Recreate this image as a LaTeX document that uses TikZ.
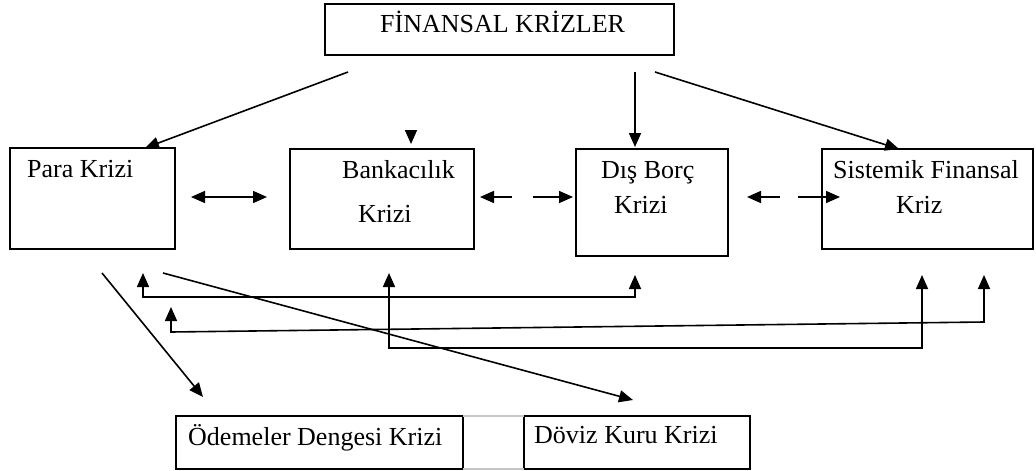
\documentclass[tikz,border=0pt]{standalone}
\usepackage{fontspec}
\setmainfont{Liberation Serif}
\usetikzlibrary{arrows.meta}
\begin{document}
\begin{tikzpicture}[x=1pt,y=-1pt,
  box/.style={draw=black, line width=1.8pt, rectangle, inner sep=0pt, outer sep=0pt, anchor=north west},
  txt/.style={inner sep=0pt, anchor=base west, font=\fontsize{26}{30}\selectfont},
  arr/.style={line width=1.6pt, -{Triangle[length=14pt,width=12pt]}},
  arrb/.style={line width=1.6pt, {Triangle[length=14pt,width=12pt]}-{Triangle[length=14pt,width=12pt]}},
  arrl/.style={line width=1.6pt, {Triangle[length=14pt,width=12pt]}-}]
\fill[white] (0,0) rectangle (1036,471);
\useasboundingbox (0,0) rectangle (1036,471);

% boxes
\node[box, minimum width=349pt, minimum height=51pt] (fin) at (325,4) {};
\node[box, minimum width=165pt, minimum height=101pt] (para) at (10,148) {};
\node[box, minimum width=184pt, minimum height=100pt] (bank) at (290,149) {};
\node[box, minimum width=152pt, minimum height=107pt] (dis) at (576,149) {};
\node[box, minimum width=211pt, minimum height=100pt] (sis) at (822,149) {};
\node[box, minimum width=287pt, minimum height=53pt] (oed) at (176,416) {};
\node[box, minimum width=226pt, minimum height=53pt] (dov) at (524,416) {};

% light joining lines
\draw[gray!45, line width=1.2pt] (oed.north east) -- (dov.north west);
\draw[gray!45, line width=1.2pt] (oed.south east) -- (dov.south west);

% texts
\node[txt] (tfin) at (380,32) {FİNANSAL KRİZLER};
\node[txt] (tpara) at (27,177) {Para Krizi};
\node[txt] (tbank1) at (342,178) {Bankacılık};
\node[txt] (tbank2) at (358,222) {Krizi};
\node[txt] (tdis1) at (601,178) {Dış Borç};
\node[txt] (tdis2) at (614,213) {Krizi};
\node[txt] (tsis1) at (833,178) {Sistemik Finansal};
\node[txt] (tsis2) at (896,213) {Kriz};
\node[txt] (toed) at (188,445) {Ödemeler Dengesi Krizi};
\node[txt] (tdov) at (534,443) {Döviz Kuru Krizi};

% free-end coordinates
\coordinate (f1) at (348,72);
\coordinate (f2) at (635,72);
\coordinate (f3) at (655,72);
\coordinate (t0) at (411,130);
\coordinate (t1) at (411,144);
\coordinate (h1a) at (191,197);
\coordinate (h1b) at (267,197);
\coordinate (h2a) at (480,197);
\coordinate (h2b) at (512,197);
\coordinate (h3a) at (533,197);
\coordinate (h3b) at (573,197);
\coordinate (h4a) at (747,197);
\coordinate (h4b) at (780,197);
\coordinate (h5a) at (798,197);
\coordinate (h5b) at (840,197);
\coordinate (p1) at (102,273);
\coordinate (p2) at (163,273);
\coordinate (o1) at (203,397);
\coordinate (d1) at (633,400);

% top arrows
\draw[arr] (f1) -- ([xshift=135pt]para.north west);
\draw[arr] (t0) -- (t1);
\draw[arr] (f2) -- ([xshift=59pt,yshift=2pt]dis.north west);
\draw[arr] (f3) -- ([xshift=77pt]sis.north west);

% middle arrows
\draw[arrb] (h1a) -- (h1b);
\draw[arrl] (h2a) -- (h2b);
\draw[arr] (h3a) -- (h3b);
\draw[arrl] (h4a) -- (h4b);
\draw[arr] (h5a) -- (h5b);

% bottom arrows
\draw[arr] (p1) -- (o1);
\draw[arr] (p2) -- (d1);

\draw[arrb] ([xshift=133pt,yshift=-24pt]para.south west) -- (143,297) -- (635,297) -- ([xshift=59pt,yshift=-19pt]dis.south west);
\draw[arrb] ([xshift=161pt,yshift=-58pt]para.south west) -- (171,332) -- (984,322) -- ([xshift=162pt,yshift=-26pt]sis.south west);
\draw[arrb] ([xshift=99pt,yshift=-24pt]bank.south west) -- (389,348) -- (922,348) -- ([xshift=100pt,yshift=-26pt]sis.south west);
\end{tikzpicture}
\end{document}
